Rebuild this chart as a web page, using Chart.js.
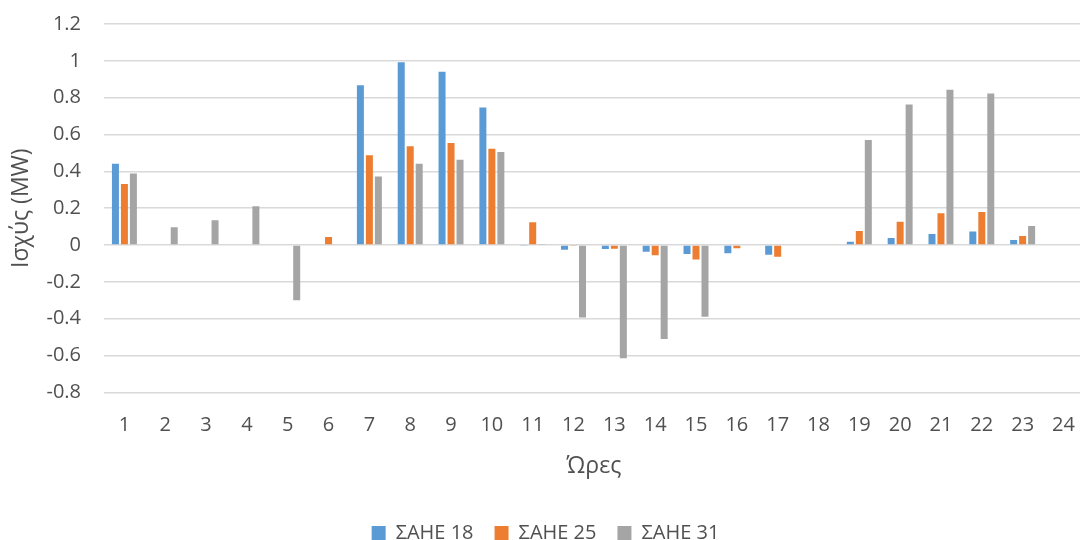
<!DOCTYPE html>
<html>
<head>
<meta charset="utf-8">
<script src="https://cdn.jsdelivr.net/npm/chart.js@4"></script>
<style>
  html, body { margin: 0; padding: 0; background: #fff; overflow: hidden; width: 1080px; height: 540px; }
  #wrap { position: absolute; left: 0; top: 0; width: 1096px; height: 553px; }
</style>
</head>
<body>
<div id="wrap"><canvas id="c" width="1096" height="553"></canvas></div>
<script>
// Hours of the day
const hours = ['1','2','3','4','5','6','7','8','9','10','11','12','13','14','15','16','17','18','19','20','21','22','23','24'];

// Power per unit (MW)
const sahe18 = [0.441, 0, 0, 0, 0, 0, 0.868, 0.992, 0.941, 0.747, -0.005, -0.025, -0.022, -0.036, -0.049, -0.045, -0.053, 0, 0.018, 0.038, 0.060, 0.073, 0.027, 0];
const sahe25 = [0.332, 0, 0, 0, 0, 0.044, 0.487, 0.536, 0.554, 0.523, 0.124, -0.005, -0.020, -0.056, -0.078, -0.018, -0.064, 0, 0.076, 0.127, 0.173, 0.180, 0.049, 0];
const sahe31 = [0.389, 0.096, 0.134, 0.211, -0.300, 0, 0.372, 0.441, 0.463, 0.505, 0.003, -0.394, -0.615, -0.510, -0.389, 0, 0, 0, 0.570, 0.763, 0.843, 0.823, 0.104, 0];

const seriesNames = ['ΣΑΗΕ 18', 'ΣΑΗΕ 25', 'ΣΑΗΕ 31'];
const yAxisTitle = 'Ισχύς (MW)';
const xAxisTitle = 'Ώρες';

const FONT = '"Open Sans", "DejaVu Sans", sans-serif';
const TXT = '#505050';

const mk = (label, data, color) => ({
  label, data,
  backgroundColor: color,
  borderWidth: 0,
  barPercentage: 0.78,
  categoryPercentage: 0.66
});

new Chart(document.getElementById('c'), {
  type: 'bar',
  data: {
    labels: hours,
    datasets: [
      mk(seriesNames[0], sahe18, '#5B9BD5'),
      mk(seriesNames[1], sahe25, '#ED7D31'),
      mk(seriesNames[2], sahe31, '#A5A5A5')
    ]
  },
  options: {
    responsive: false,
    animation: false,
    layout: { padding: { top: 24, right: 5, left: 0, bottom: 0 } },
    plugins: {
      tooltip: { enabled: false },
      legend: {
        position: 'bottom',
        labels: {
          color: TXT,
          font: { family: FONT, size: 20 },
          boxWidth: 14,
          boxHeight: 14,
          padding: 21
        }
      }
    },
    scales: {
      x: {
        grid: { display: false, drawTicks: false },
        border: { display: false },
        ticks: { color: TXT, font: { family: FONT, size: 20 }, padding: 21, maxRotation: 0 },
        title: { display: true, text: xAxisTitle, color: TXT, font: { family: FONT, size: 23 }, padding: { top: -6, bottom: 22 } }
      },
      y: {
        min: -0.8,
        max: 1.2,
        afterFit: s => { s.width = 104; s.paddingTop = 10; s.paddingBottom = 10; },
        grid: { color: '#D9D9D9', lineWidth: 1.5, drawTicks: false },
        border: { display: false },
        ticks: {
          stepSize: 0.2,
          color: TXT,
          font: { family: FONT, size: 20 },
          padding: 23,
          callback: v => String(Number(v.toFixed(1)))
        },
        title: { display: true, text: yAxisTitle, color: TXT, font: { family: FONT, size: 23 }, padding: { top: 8, bottom: 0 } }
      }
    }
  }
});
</script>
</body>
</html>
